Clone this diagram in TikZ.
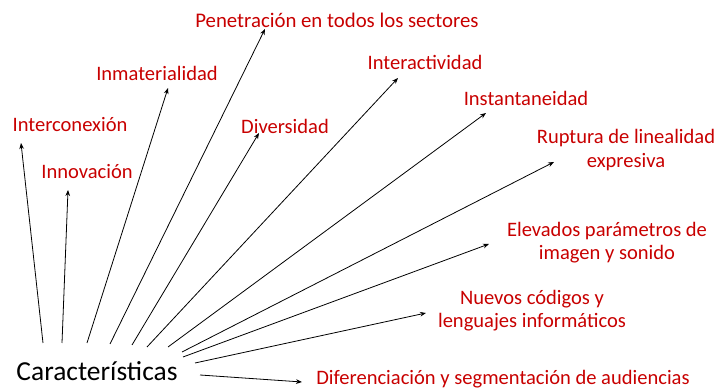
\documentclass[tikz,border=0pt]{standalone}
\usepackage{fontspec}
\setmainfont{Carlito}
\usetikzlibrary{arrows.meta}
\definecolor{lblred}{RGB}{200,0,0}
\tikzset{
  lbl/.style={text=lblred, font=\fontsize{15.4}{17.4}\selectfont, align=center, inner sep=0pt},
  arr/.style={-{Stealth[length=4.5pt,width=3.5pt]}, line width=0.6pt, black}
}
\begin{document}
\begin{tikzpicture}[x=0.75pt,y=-0.75pt]
\useasboundingbox (0,0) rectangle (719,391);
\node[inner sep=0pt, font=\fontsize{20.6}{24}\selectfont] (car) at (97,371) {Características};
\node[lbl] (l1) at (70,125) {Interconexión};
\node[lbl] (l2) at (87,172) {Innovación};
\node[lbl] (l3) at (157,73) {Inmaterialidad};
\node[lbl, font=\fontsize{15.6}{17.6}\selectfont] (l4) at (337,20) {Penetración en todos los sectores};
\node[lbl] (l5) at (285,126) {Diversidad};
\node[lbl] (l6) at (425,62) {Interactividad};
\node[lbl] (l7) at (526,98) {Instantaneidad};
\node[lbl] (l8) at (626,150) {Ruptura de linealidad\\expresiva};
\node[lbl] (l9) at (607,243) {Elevados parámetros de\\imagen y sonido};
\node[lbl] (l10) at (532,311) {Nuevos códigos y\\lenguajes informáticos};
\node[lbl] (l11) at (503,379) {Diferenciación y segmentación de audiencias};
% start points
\coordinate (s1) at (43,343);
\coordinate (s2) at (62,343);
\coordinate (s3) at (87,343);
\coordinate (s4) at (110,344);
\coordinate (s5) at (132,345);
\coordinate (s6) at (147,347);
\coordinate (s7) at (168,347);
\coordinate (s8) at (182,352);
\coordinate (s9) at (183,357);
\coordinate (s10) at (195,363);
\coordinate (s11) at (200,375);
% tips
\coordinate (t1) at (21,143);
\coordinate (t2) at (68,190);
\coordinate (t3) at (168,88);
\coordinate (t4) at (265,29);
\coordinate (t5) at (259,133);
\coordinate (t6) at (398,78);
\coordinate (t7) at (486,113);
\coordinate (t8) at (554,162);
\coordinate (t9) at (489,244);
\coordinate (t10) at (426,313);
\coordinate (t11) at (302,382);
\foreach \i in {1,...,11} {\draw[arr] (s\i) -- (t\i);}
\end{tikzpicture}
\end{document}
